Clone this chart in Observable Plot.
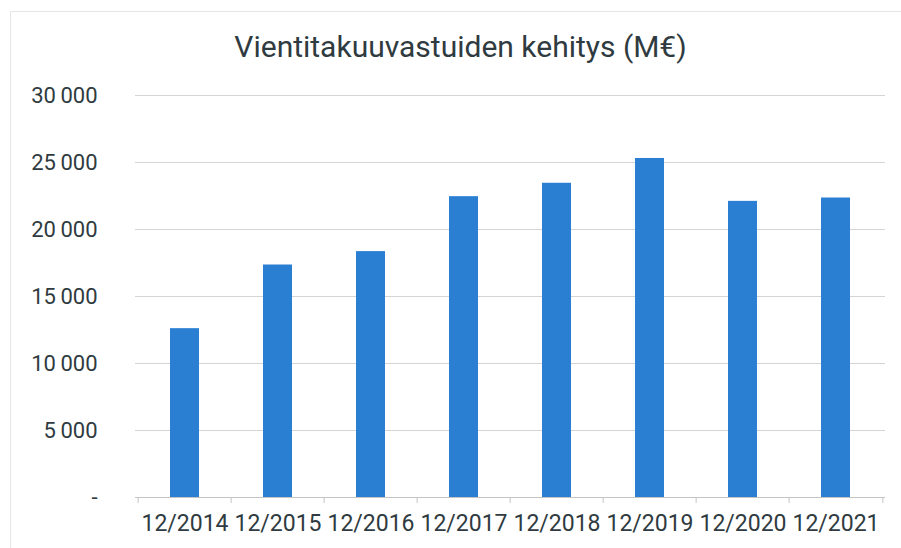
<!DOCTYPE html>
<html>
<head>
<meta charset="utf-8">
<script src="https://cdn.jsdelivr.net/npm/d3@7"></script>
<script src="https://cdn.jsdelivr.net/npm/@observablehq/plot@0.6"></script>
<style>
  html, body { margin: 0; padding: 0; background: #fff; }
  #wrap { position: relative; width: 901px; height: 548px; overflow: hidden; font-family: Roboto, sans-serif; }
  #frame { position: absolute; left: 10px; top: 11px; width: 900px; height: 600px; border-left: 1.5px solid #e6e6e6; border-top: 1.5px solid #e6e6e6; }
  #title { position: absolute; left: 0; width: 921px; top: 29px; text-align: center; font-size: 30px; line-height: 36px; color: #2f3b40; }
  #chart { position: absolute; left: 0; top: 0; }
</style>
</head>
<body>
<div id="wrap">
  <div id="frame"></div>
  <div id="chart"></div>
  <div id="title">Vientitakuuvastuiden kehitys (M€)</div>
</div>
<script>
const categories = ["12/2014", "12/2015", "12/2016", "12/2017", "12/2018", "12/2019", "12/2020", "12/2021"];
const values = [12600, 17350, 18350, 22450, 23450, 25300, 22100, 22350];
const yTicks = [0, 5000, 10000, 15000, 20000, 25000, 30000];

const data = categories.map((c, i) => ({cat: c, value: values[i]}));
const fmt = v => v === 0 ? "-" : d3.format(",")(v).replace(/,/g, "\u2009");

const width = 901, height = 548;
const marginLeft = 135, marginRight = 16;
const step = (width - marginLeft - marginRight) / categories.length;

const chart = Plot.plot({
  width, height,
  marginTop: 95, marginBottom: 51, marginLeft, marginRight,
  style: {fontFamily: "Roboto, sans-serif", fontSize: "22px", color: "#2f3b40", background: "transparent"},
  x: {domain: categories, paddingInner: 0.69, paddingOuter: 0.345, label: null},
  y: {domain: [0, 30000], label: null},
  marks: [
    Plot.gridY(yTicks.filter(d => d > 0), {stroke: "#d4d4d4", strokeOpacity: 1, strokeWidth: 1}),
    Plot.barY(data, {x: "cat", y: "value", fill: "#2a7fd3"}),
    Plot.ruleY([0], {stroke: "#c4c4c4", strokeWidth: 1}),
    Plot.ruleX(categories, {x: d => d, y1: 0, y2: 0, insetBottom: -6, dx: -step / 2, stroke: "#c4c4c4"}),
    Plot.ruleX(categories.slice(-1), {x: d => d, y1: 0, y2: 0, insetBottom: -6, dx: step / 2, stroke: "#c4c4c4"}),
    Plot.axisY(yTicks, {tickSize: 0, tickPadding: 38, tickFormat: fmt, fontSize: 22, fill: "#2f3b40"}),
    Plot.axisX(categories, {tickSize: 0, tickPadding: 17, fontSize: 23, fill: "#2f3b40"})
  ]
});
document.getElementById("chart").appendChild(chart);
</script>
</body>
</html>
